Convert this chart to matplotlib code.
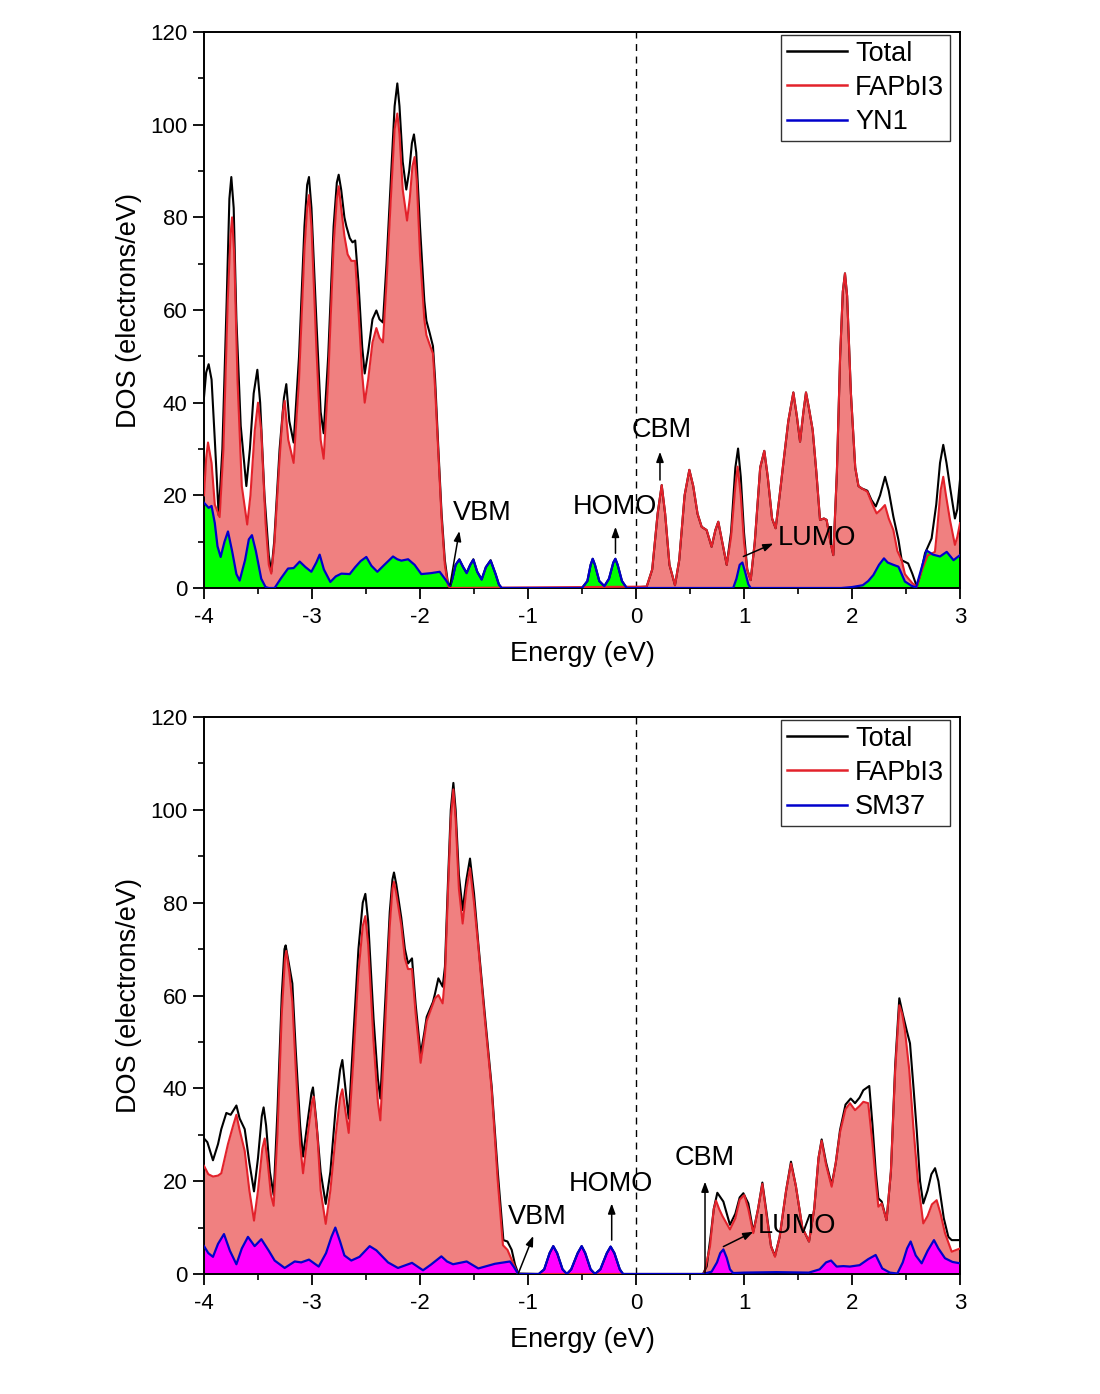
import matplotlib
matplotlib.use("Agg")
import matplotlib.pyplot as plt
from matplotlib.ticker import MultipleLocator

plt.rcParams['font.family'] = ['Liberation Sans', 'DejaVu Sans']

# ---------------- Top panel (YN1) ----------------
top_total_E = [-4.00, -3.98, -3.957, -3.93, -3.90, -3.864, -3.83, -3.79, -3.765, -3.747, -3.725, -3.70, -3.66, -3.608,
               -3.575, -3.54, -3.506, -3.48, -3.44, -3.40, -3.377, -3.35, -3.30, -3.26, -3.238, -3.21, -3.17, -3.12,
               -3.07, -3.045, -3.028, -3.005, -2.96, -2.92, -2.892, -2.85, -2.80, -2.77, -2.753, -2.73, -2.70, -2.682,
               -2.65, -2.625, -2.60, -2.57, -2.535, -2.512, -2.48, -2.44, -2.404, -2.375, -2.343, -2.31, -2.27, -2.235,
               -2.21, -2.19, -2.16, -2.127, -2.10, -2.075, -2.056, -2.035, -2.00, -1.96, -1.941, -1.91, -1.88, -1.86,
               -1.83, -1.80, -1.77, -1.74, -1.72, -1.70, -1.67, -1.636, -1.60, -1.568, -1.535, -1.506, -1.47, -1.429,
               -1.39, -1.346, -1.30, -1.27, -1.244, -0.50, -0.45, -0.42, -0.401, -0.38, -0.34, -0.293, -0.25, -0.21,
               -0.191, -0.17, -0.13, -0.086, 0.099, 0.15, 0.20, 0.238, 0.27, 0.31, 0.361, 0.40, 0.45, 0.494, 0.53,
               0.57, 0.608, 0.654, 0.70, 0.735, 0.762, 0.79, 0.84, 0.88, 0.92, 0.945, 0.97, 1.00, 1.03, 1.062, 1.10,
               1.15, 1.188, 1.22, 1.26, 1.293, 1.33, 1.364, 1.41, 1.457, 1.49, 1.519, 1.55, 1.574, 1.60, 1.636, 1.67,
               1.704, 1.74, 1.765, 1.80, 1.827, 1.86, 1.89, 1.915, 1.935, 1.955, 1.99, 2.03, 2.06, 2.09, 2.142, 2.18,
               2.22, 2.26, 2.306, 2.34, 2.383, 2.41, 2.43, 2.46, 2.52, 2.56, 2.60, 2.64, 2.676, 2.737, 2.78, 2.815,
               2.845, 2.875, 2.907, 2.953, 2.975, 3.00]
top_total_D = [41.2, 46.5, 48.3, 45, 32, 15.7, 30, 62, 84, 88.7, 82, 58, 35, 22,
               30, 42, 47.1, 40, 20, 7, 3.5, 10, 30, 41, 44, 36, 31.4, 50,
               78, 87, 88.7, 82, 58, 38, 33.4, 50, 78, 87.5, 89.2, 86, 80, 78.1,
               75.5, 74.6, 75, 66, 52, 46.3, 51, 58, 59.9, 58, 57.3, 70, 88, 104,
               108.9, 104, 92, 86, 90, 96, 97.9, 94, 78, 62, 57.7, 55, 52.2, 45,
               30, 16, 6, 0.8, 0.3, 2, 5, 6.2, 4.5, 3.3, 5, 6.2, 3.5, 1.9,
               4.5, 6.0, 3, 0.8, 0, 0, 1.5, 5, 6.3, 5, 1.5, 0.4, 2, 5.5,
               6.3, 5, 1.5, 0, 0.3, 4, 16, 22.2, 16, 5, 0.6, 6, 20, 25.5, 22,
               16, 13.2, 12.5, 8.9, 12.5, 14.3, 11, 5, 12, 26, 30.1, 24, 12, 4, 1.7, 10,
               26, 29.6, 24, 15, 12.9, 20, 26.9, 36, 42.2, 37, 31.6, 38, 42.2, 39, 34.1, 25,
               14.7, 15, 14.7, 10, 7.1, 25, 50, 64, 67.9, 63, 42, 26, 22, 21.5, 21, 19,
               17.6, 20, 24, 21, 15.4, 12.5, 10.4, 6, 5.3, 3, 0.3, 3.5, 7.5, 10.7, 18, 27,
               30.9, 27, 21.9, 15, 17, 23.3]

top_fap_E = [-4.00, -3.98, -3.963, -3.93, -3.90, -3.855, -3.82, -3.78, -3.755, -3.74, -3.72, -3.69, -3.65, -3.60,
             -3.57, -3.53, -3.50, -3.47, -3.43, -3.40, -3.377, -3.35, -3.30, -3.27, -3.253, -3.22, -3.17, -3.12,
             -3.07, -3.045, -3.028, -3.005, -2.96, -2.92, -2.892, -2.85, -2.80, -2.77, -2.753, -2.73, -2.70, -2.67,
             -2.636, -2.60, -2.57, -2.535, -2.512, -2.48, -2.44, -2.404, -2.375, -2.343, -2.31, -2.27, -2.235,
             -2.21, -2.19, -2.16, -2.12, -2.095, -2.07, -2.05, -2.03, -2.00, -1.96, -1.941, -1.91, -1.88, -1.86,
             -1.83, -1.80, -1.77, -1.74, -1.72, 0.099, 0.15, 0.20, 0.238, 0.27, 0.31, 0.361, 0.40, 0.45, 0.494, 0.53,
             0.57, 0.608, 0.654, 0.70, 0.735, 0.762, 0.79, 0.84, 0.88, 0.92, 0.941, 0.97, 1.00, 1.03, 1.062, 1.10,
             1.15, 1.188, 1.22, 1.26, 1.293, 1.33, 1.364, 1.41, 1.457, 1.49, 1.519, 1.55, 1.574, 1.60, 1.636, 1.67,
             1.704, 1.74, 1.765, 1.80, 1.827, 1.86, 1.89, 1.915, 1.935, 1.955, 1.99, 2.03, 2.06, 2.09, 2.142, 2.19,
             2.228, 2.27, 2.305, 2.34, 2.383, 2.42, 2.46, 2.49, 2.52, 2.56, 2.60, 2.65, 2.70, 2.768, 2.79, 2.82,
             2.845, 2.87, 2.907, 2.953, 2.975, 3.00]
top_fap_D = [20, 28, 31.4, 27, 18, 15.3, 30, 62, 76, 80, 72, 45, 22, 13.7,
             20, 34, 40, 34, 14, 5, 3.1, 9, 28, 38, 40.4, 32, 27, 45,
             73, 82, 84.8, 78, 52, 32, 27.9, 45, 74, 84, 86.7, 82, 76, 72,
             70.6, 70.6, 60, 46, 40, 45, 53, 56.1, 54, 53, 66, 84, 99,
             102.4, 98, 86, 79.3, 84, 91, 93, 88, 72, 58, 54.6, 52.5, 50.6, 43,
             29, 15, 5, 0.5, 0, 0.3, 4, 16, 22.2, 16, 5, 0.6, 6, 20, 25.5, 22,
             16, 13.2, 12.5, 8.9, 12.5, 14.3, 11, 5, 11, 22, 26.2, 20, 10, 4, 1.7, 10,
             26, 29.6, 24, 15, 12.9, 20, 26.9, 36, 42.2, 37, 31.6, 38, 42.2, 39, 34.1, 25,
             14.7, 15, 14.7, 10, 7.1, 25, 50, 64, 67.9, 63, 42, 26, 22, 21.5, 20.8, 18,
             16.1, 17, 17.9, 15, 12.5, 8, 6, 3, 2.1, 1, 0.3, 4, 7, 7.8, 13, 21,
             24, 20, 14.7, 9.3, 11, 14]

top_yn1_E = [-4.00, -3.957, -3.93, -3.90, -3.875, -3.846, -3.81, -3.778, -3.74, -3.70, -3.67, -3.62, -3.585, -3.556,
             -3.52, -3.47, -3.43, -3.40, -3.346, -3.29, -3.222, -3.17, -3.114, -3.06, -3.006, -2.96, -2.929, -2.89,
             -2.83, -2.78, -2.728, -2.651, -2.60, -2.55, -2.497, -2.45, -2.395, -2.33, -2.25, -2.21, -2.173, -2.11,
             -2.05, -1.988, -1.90, -1.818, -1.77, -1.725, -1.70, -1.67, -1.636, -1.60, -1.568, -1.535, -1.506, -1.47,
             -1.429, -1.39, -1.346, -1.30, -1.27, -1.244, -0.50, -0.45, -0.42, -0.401, -0.38, -0.34, -0.293, -0.25,
             -0.21, -0.191, -0.17, -0.13, -0.086, 0.90, 0.93, 0.96, 0.985, 1.01, 1.04, 1.062, 1.90, 2.00, 2.10, 2.15,
             2.198, 2.25, 2.296, 2.33, 2.383, 2.43, 2.49, 2.55, 2.593, 2.64, 2.69, 2.75, 2.815, 2.877, 2.94, 3.00]
top_yn1_D = [18.4, 17.3, 17.7, 14, 9, 6.7, 10, 12.2, 8, 3, 1.6, 6, 10.5, 11.4,
             8, 2, 0.2, 0, 0, 2, 4.2, 4.3, 5.7, 4.5, 3.5, 5.5, 7.2, 4,
             1.3, 2.5, 3.1, 3, 4.5, 5.8, 6.7, 4.8, 3.5, 5, 6.8, 6.2, 5.9, 6.2,
             5, 3, 3.2, 3.5, 2, 0.5, 2, 5, 6.1, 4.5, 3.2, 5, 6.1, 3.5,
             1.8, 4.5, 5.9, 3, 0.8, 0, 0, 1.5, 5, 6.3, 5, 1.5, 0.4, 2,
             5.5, 6.3, 5, 1.5, 0, 0, 2, 5, 5.5, 3.5, 0.8, 0, 0, 0.2, 0.6, 1.5,
             2.8, 5, 6.4, 5.5, 5, 4.6, 1.4, 0.5, 0.1, 4, 8.1, 7.2, 6.8, 7.8, 6, 7.1]

# ---------------- Bottom panel (SM37) ----------------
bot_total_E = [-4.00, -3.969, -3.917, -3.87, -3.84, -3.793, -3.753, -3.70, -3.67, -3.623, -3.58, -3.537, -3.50, -3.465,
               -3.448, -3.425, -3.39, -3.355, -3.32, -3.28, -3.255, -3.244, -3.215, -3.182, -3.15, -3.11, -3.083,
               -3.04, -3.005, -2.991, -2.96, -2.92, -2.873, -2.83, -2.78, -2.74, -2.719, -2.69, -2.66, -2.62, -2.57,
               -2.53, -2.506, -2.48, -2.43, -2.39, -2.367, -2.33, -2.28, -2.255, -2.241, -2.22, -2.173, -2.14, -2.111,
               -2.074, -2.04, -1.994, -1.96, -1.938, -1.88, -1.861, -1.83, -1.79, -1.769, -1.74, -1.715, -1.691, -1.67,
               -1.64, -1.605, -1.57, -1.537, -1.50, -1.46, -1.40, -1.336, -1.28, -1.228, -1.19, -1.151, -1.12, -1.09,
               -0.90, -0.85, -0.80, -0.766, -0.73, -0.68, -0.64, -0.60, -0.54, -0.503, -0.47, -0.42, -0.38, -0.33,
               -0.27, -0.235, -0.20, -0.15, -0.12, 0.62, 0.654, 0.69, 0.72, 0.753, 0.809, 0.87, 0.92, 0.96, 0.994,
               1.04, 1.086, 1.13, 1.17, 1.21, 1.25, 1.287, 1.33, 1.39, 1.435, 1.48, 1.54, 1.602, 1.65, 1.69, 1.719,
               1.76, 1.812, 1.85, 1.889, 1.94, 1.988, 2.028, 2.07, 2.105, 2.16, 2.19, 2.22, 2.244, 2.275, 2.32, 2.36,
               2.40, 2.438, 2.47, 2.506, 2.537, 2.57, 2.599, 2.63, 2.66, 2.70, 2.735, 2.769, 2.80, 2.85, 2.892,
               2.923, 3.00]
bot_total_D = [29.2, 28.4, 24.5, 28, 31.2, 34.7, 34.3, 36.3, 33.5, 31.2, 24, 17.8, 25, 34,
               35.9, 32, 22, 17, 35, 60, 70, 70.8, 67, 62.6, 48, 32, 25.3,
               33, 39, 40.2, 33, 22, 15.1, 22, 36, 44, 46.1, 40, 33.5, 50, 70,
               80, 81.9, 76, 55, 42, 37.8, 55, 78, 85, 86.5, 84, 76.7, 70, 66.9,
               68, 58, 47.3, 52, 55.4, 58.6, 60.4, 63.7, 61.9, 66.2, 85, 100, 105.8, 100,
               86, 78.4, 85, 89.5, 82, 71.2, 56, 40.3, 22, 7.3, 7, 5.2, 2, 0.1,
               0, 1, 4.5, 6, 4.5, 1, 0, 1, 4.5, 6, 4.5, 1, 0, 1,
               4.5, 5.9, 4.5, 1, 0, 0, 1.6, 8, 14, 17.5, 15.6, 10.6, 13, 16.5, 17.4,
               15.2, 9.1, 14, 19.7, 13, 6, 3.9, 8, 18, 24.2, 19, 10, 7, 14, 25, 29,
               24, 19.2, 24, 31, 36.5, 37.8, 36.8, 38, 39.6, 40.5, 32, 22, 16.3, 15.6, 11.6, 22,
               45, 59.4, 56, 52.5, 49.7, 40, 31, 20, 15.2, 18, 21.5, 22.8, 20, 12, 8,
               7.3, 7.3]

bot_fap_E = [-4.00, -3.96, -3.917, -3.87, -3.84, -3.778, -3.73, -3.70, -3.67, -3.623, -3.58, -3.537, -3.50, -3.46,
             -3.438, -3.41, -3.38, -3.355, -3.32, -3.28, -3.25, -3.238, -3.21, -3.182, -3.15, -3.11, -3.083,
             -3.04, -3.00, -2.985, -2.95, -2.92, -2.873, -2.83, -2.78, -2.74, -2.719, -2.69, -2.66, -2.62, -2.57,
             -2.53, -2.506, -2.48, -2.43, -2.39, -2.367, -2.33, -2.28, -2.255, -2.241, -2.22, -2.173, -2.14, -2.111,
             -2.074, -2.04, -1.994, -1.96, -1.938, -1.861, -1.83, -1.79, -1.769, -1.74, -1.715, -1.691, -1.67,
             -1.64, -1.605, -1.57, -1.537, -1.50, -1.46, -1.40, -1.336, -1.28, -1.232, -1.19, -1.15, -1.10, -1.09,
             0.63, 0.685, 0.72, 0.741, 0.77, 0.80, 0.87, 0.92, 0.96, 1.003, 1.04, 1.086, 1.13, 1.17, 1.21, 1.25,
             1.287, 1.33, 1.39, 1.435, 1.48, 1.54, 1.602, 1.65, 1.69, 1.719, 1.76, 1.812, 1.85, 1.889, 1.94, 1.981,
             2.028, 2.07, 2.105, 2.15, 2.19, 2.22, 2.244, 2.275, 2.32, 2.36, 2.40, 2.438, 2.465, 2.49, 2.53, 2.568,
             2.61, 2.66, 2.70, 2.74, 2.784, 2.82, 2.861, 2.923, 3.00]
bot_fap_D = [23.3, 21.5, 21, 21.2, 21.7, 28, 32, 34.3, 31, 26.5, 18, 11.5, 18, 27,
             29.2, 24, 17, 14.7, 30, 56, 68, 69.6, 65, 58.6, 44, 28, 21.7,
             30, 37, 38.2, 30, 18, 10.8, 18, 30, 38, 39.8, 35, 30.4, 45, 65,
             75, 77.1, 71, 50, 37, 33.1, 50, 75, 83, 84.5, 82, 75.1, 68, 65.7,
             65.7, 56, 45.5, 51, 54.5, 59.4, 60.1, 58.3, 64, 83, 98, 104.4, 98,
             83, 75.5, 83, 87.4, 80, 70.5, 55, 39.6, 20, 6.2, 5.2, 3, 0.3, 0,
             0, 5.9, 14, 15.8, 14, 12.5, 9.6, 12, 16, 17, 14, 8.8, 14, 19.4, 12.5, 6,
             3.7, 8, 18, 23.8, 19, 10, 7, 14, 25, 28.7, 23.5, 18.8, 24, 30.5, 35.5, 36.8,
             35.3, 36.2, 37.1, 36.8, 28, 20, 14.5, 15.2, 11.6, 22, 44, 57.9, 56, 52.5, 44, 31.7,
             20, 10.9, 12.5, 15, 15.9, 13, 8.8, 4.8, 5.5]

bot_sm37_E = [-4.00, -3.96, -3.917, -3.87, -3.815, -3.76, -3.70, -3.65, -3.593, -3.531, -3.469, -3.40, -3.346,
              -3.253, -3.16, -3.10, -3.028, -2.938, -2.87, -2.82, -2.784, -2.74, -2.70, -2.636, -2.56, -2.466,
              -2.404, -2.296, -2.204, -2.074, -1.972, -1.90, -1.802, -1.75, -1.694, -1.568, -1.46, -1.306, -1.167,
              -1.13, -1.09, -0.90, -0.85, -0.80, -0.766, -0.73, -0.68, -0.64, -0.60, -0.54, -0.503, -0.47, -0.42,
              -0.38, -0.33, -0.27, -0.235, -0.20, -0.15, -0.12, 0.62, 0.70, 0.75, 0.78, 0.809, 0.84, 0.87, 0.90,
              1.00, 1.30, 1.60, 1.70, 1.76, 1.806, 1.858, 1.92, 1.98, 2.07, 2.15, 2.219, 2.28, 2.35, 2.42, 2.47,
              2.51, 2.543, 2.59, 2.645, 2.70, 2.759, 2.80, 2.861, 2.93, 3.00]
bot_sm37_D = [6, 4.5, 3.7, 6.5, 8.6, 5, 2.1, 5.5, 8, 6, 7.5, 5, 2.9,
              1.3, 2.7, 2.5, 3.1, 1.6, 4.5, 8, 10, 7, 4, 2.9, 3.7, 6,
              5.1, 2.5, 1.3, 2.4, 0.8, 2, 3.8, 2.7, 2.1, 2.7, 1.2, 2.2, 2.7,
              1.5, 0, 0, 1, 4.5, 6, 4.5, 1, 0, 1, 4.5, 6, 4.5, 1,
              0, 1, 4.5, 5.9, 4.5, 1, 0, 0, 0.5, 2.5, 4.5, 5.3, 3.5, 1, 0.2,
              0.3, 0.4, 0.3, 1, 2.5, 2.9, 1.6, 1.7, 1.6, 1.9, 3.2, 4.1, 1.2, 0.3, 0.1, 2.5,
              5.5, 7, 4, 2.3, 5, 7.3, 5.5, 3.4, 2.6, 2.3]

x_ticks = [-4, -3, -2, -1, 0, 1, 2, 3]
y_ticks = [0, 20, 40, 60, 80, 100, 120]

# annotations: (label, text E, text D, arrow tail E, tail D, head E, head D)
top_notes = [("VBM", -1.42, 16.2, -1.722, 0.7, -1.636, 12.3),
             ("HOMO", -0.20, 17.5, -0.19, 7.5, -0.19, 13.2),
             ("CBM", 0.241, 34.1, 0.222, 23.3, 0.222, 29.4),
             ("LUMO", 1.676, 10.8, 0.994, 6.8, 1.272, 9.6)]
bot_notes = [("VBM", -0.917, 12.3, -1.09, 0.1, -0.951, 8.2),
             ("HOMO", -0.231, 19.4, -0.225, 7.3, -0.225, 15.2),
             ("CBM", 0.639, 25.0, 0.639, 0.2, 0.639, 19.9),
             ("LUMO", 1.49, 10.3, 0.809, 5.9, 1.086, 9.1)]

C_BLACK = '#000000'
C_RED = '#E3222B'
C_FILL = '#F08080'
C_BLUE = '#0000CC'
FS = 19.5

fig = plt.figure(figsize=(11, 13.94), dpi=100)
fig.patch.set_facecolor('white')

axes_rects = [[204 / 1100, 1 - 588 / 1394, 756 / 1100, 556 / 1394],
              [204 / 1100, 1 - 1274 / 1394, 756 / 1100, 557 / 1394]]

panels = [
    (top_total_E, top_total_D, top_fap_E, top_fap_D, top_yn1_E, top_yn1_D, 'YN1', '#00FF00', top_notes),
    (bot_total_E, bot_total_D, bot_fap_E, bot_fap_D, bot_sm37_E, bot_sm37_D, 'SM37', '#FF00FF', bot_notes),
]

for rect, (tE, tD, fE, fD, mE, mD, mname, mfill, notes) in zip(axes_rects, panels):
    ax = fig.add_axes(rect)
    ax.fill_between(fE, fD, 0, color=C_FILL, lw=0, zorder=1)
    ax.fill_between(mE, mD, 0, color=mfill, lw=0, zorder=2)
    ax.plot(tE, tD, color=C_BLACK, lw=1.5, zorder=3, label='Total', solid_joinstyle='round')
    ax.plot(fE, fD, color=C_RED, lw=1.5, zorder=4, label='FAPbI3', solid_joinstyle='round')
    ax.plot(mE, mD, color=C_BLUE, lw=1.6, zorder=5, label=mname, solid_joinstyle='round')
    ax.axvline(0, color='black', lw=1.0, ls=(0, (5, 4)), zorder=2.5)

    for (lab, tx, ty, ax0, ay0, ax1, ay1) in notes:
        ax.annotate('', xy=(ax1, ay1), xytext=(ax0, ay0),
                    arrowprops=dict(arrowstyle='-|>,head_length=0.6,head_width=0.22',
                                    color='black', lw=1.1, shrinkA=0, shrinkB=0), zorder=6)
        ax.text(tx, ty, lab, fontsize=FS, ha='center', va='center', zorder=7)

    ax.set_xlim(-4, 3)
    ax.set_ylim(0, 120)
    ax.set_xticks(x_ticks)
    ax.set_xticklabels([str(v) for v in x_ticks])
    ax.set_yticks(y_ticks)
    ax.set_yticklabels([str(v) for v in y_ticks])
    ax.xaxis.set_minor_locator(MultipleLocator(0.5))
    ax.yaxis.set_minor_locator(MultipleLocator(10))
    ax.tick_params(which='major', direction='out', length=8, width=1.3, labelsize=16)
    ax.tick_params(axis='x', which='major', pad=6)
    ax.tick_params(axis='y', which='major', pad=4)
    ax.tick_params(which='minor', direction='out', length=4.5, width=1.2)
    for s in ax.spines.values():
        s.set_linewidth(1.4)
    ax.set_xlabel('Energy (eV)', fontsize=FS, labelpad=9)
    ax.set_ylabel('DOS (electrons/eV)', fontsize=FS, labelpad=6)

    leg = ax.legend(loc='upper right', bbox_to_anchor=(0.987, 0.995), fontsize=FS,
                    frameon=True, fancybox=False, edgecolor='#333333', framealpha=1,
                    handlelength=2.2, handletextpad=0.3, labelspacing=0.3,
                    borderpad=0.22, borderaxespad=0)
    leg.get_frame().set_linewidth(1.0)
    for line in leg.get_lines():
        line.set_linewidth(1.8)

fig.savefig('out.png', dpi=100, facecolor='white')
